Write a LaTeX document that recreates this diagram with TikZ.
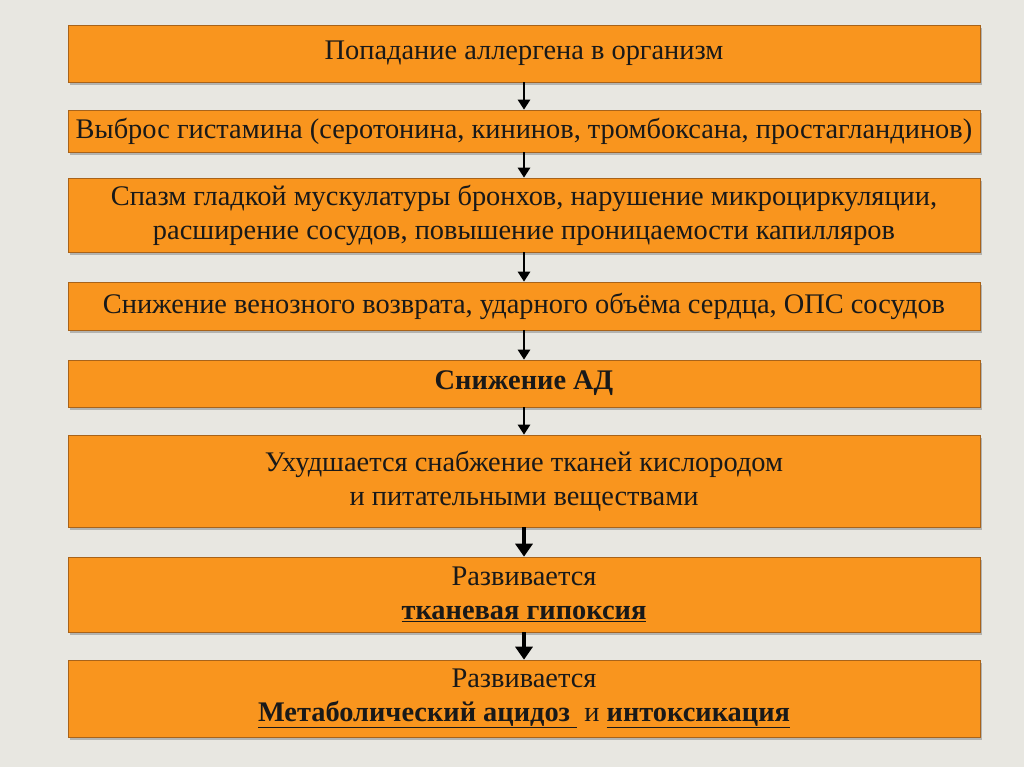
\documentclass[tikz,border=0pt]{standalone}
\usepackage{fontspec}
\setmainfont{Liberation Serif}
\usetikzlibrary{arrows.meta,shadows}
\definecolor{bg}{HTML}{E8E7E1}
\definecolor{org}{HTML}{F9951E}
\definecolor{edge}{HTML}{A8631A}
\begin{document}
\begin{tikzpicture}[x=1pt,y=-1pt,
  box/.style={draw=edge,line width=0.6pt,fill=org,minimum width=912pt,inner sep=0pt,align=center,text=black!90,font=\fontsize{28.4}{34}\selectfont,drop shadow={shadow xshift=2pt,shadow yshift=-3pt,opacity=0.5}},
  arr/.style={line width=2.5pt,-{Triangle[length=10pt,width=12pt]}},
  barr/.style={line width=3.5pt,-{Triangle[length=13pt,width=17pt]}}]
\fill[bg] (0,0) rectangle (1024,767);
\useasboundingbox (0,0) rectangle (1024,767);
\node[box,minimum height=57pt] (b1) at (524,53.5) {Попадание аллергена в организм};
\node[box,minimum height=42pt] (b2) at (524,131) {Выброс гистамина (серотонина, кининов, тромбоксана, простагландинов)};
\node[box,minimum height=74pt] (b3) at (524,215) {Спазм гладкой мускулатуры бронхов, нарушение микроциркуляции,\\ расширение сосудов, повышение проницаемости капилляров};
\node[box,minimum height=48pt] (b4) at (524,306) {Снижение венозного возврата, ударного объёма сердца, ОПС сосудов};
\node[box,minimum height=47pt] (b5) at (524,383.5) {\textbf{Снижение АД}};
\node[box,minimum height=92pt] (b6) at (524,481) {Ухудшается снабжение тканей кислородом\\ и питательными веществами};
\node[box,minimum height=75pt] (b7) at (524,594.5) {Развивается\\ \textbf{\underline{тканевая гипоксия}}};
\node[box,minimum height=77pt] (b8) at (524,698.5) {Развивается\\ \textbf{\underline{Метаболический ацидоз }} и \textbf{\underline{интоксикация}}};
\draw[arr] (b1.south) -- (b2.north);
\draw[arr] (b2.south) -- (b3.north);
\draw[arr] (b3.south) -- (b4.north);
\draw[arr] (b4.south) -- (b5.north);
\draw[arr] (b5.south) -- (b6.north);
\draw[barr] (b6.south) -- (b7.north);
\draw[barr] (b7.south) -- (b8.north);
\end{tikzpicture}
\end{document}
